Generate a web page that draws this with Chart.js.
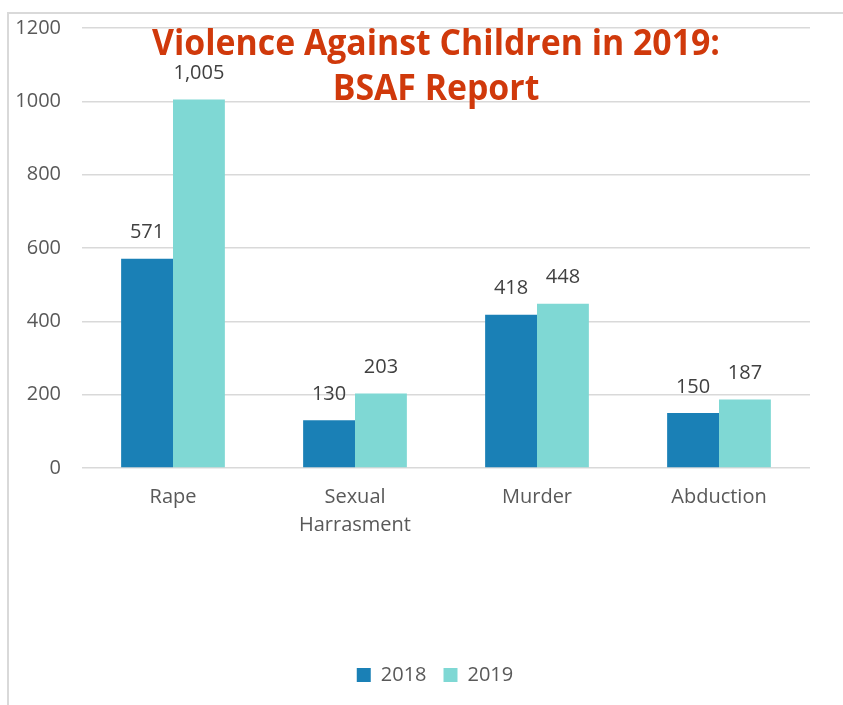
<!DOCTYPE html>
<html>
<head>
<meta charset="utf-8">
<script src="https://cdn.jsdelivr.net/npm/chart.js@4"></script>
<style>
  body { margin: 0; background: #fff; }
  #frame {
    position: absolute; left: 7px; top: 12px; right: 0; bottom: 0;
    border-left: 2px solid #d9d9d9; border-top: 2px solid #d9d9d9;
  }
  #chart { position: absolute; left: 0; top: 0; }
</style>
</head>
<body>
<div id="frame"></div>
<canvas id="chart" width="843" height="705"></canvas>
<script>
// Violence against children, BSAF report
const categories = [['Rape'], ['Sexual', 'Harrasment'], ['Murder'], ['Abduction']];
const seriesNames = ['2018', '2019'];
const values2018 = [571, 130, 418, 150];
const values2019 = [1005, 203, 448, 187];
const yTicks = [0, 200, 400, 600, 800, 1000, 1200];

const titleLines = ['Violence Against Children in 2019:', 'BSAF Report'];

const valueLabels = {
  id: 'valueLabels',
  afterDatasetsDraw(chart) {
    const ctx = chart.ctx;
    ctx.save();
    ctx.font = '20px "Open Sans"';
    ctx.fillStyle = '#404040';
    ctx.textAlign = 'center';
    ctx.textBaseline = 'middle';
    chart.data.datasets.forEach((ds, i) => {
      chart.getDatasetMeta(i).data.forEach((bar, j) => {
        ctx.fillText(ds.data[j].toLocaleString('en-US'), bar.x, bar.y - 26);
      });
    });
    ctx.restore();
  },
};

// title sits on top of the plot, squeezed to look like a condensed face
const overlayTitle = {
  id: 'overlayTitle',
  afterDraw(chart) {
    const ctx = chart.ctx;
    ctx.save();
    ctx.font = 'bold 36px "Open Sans"';
    ctx.fillStyle = '#d0390b';
    ctx.textAlign = 'center';
    ctx.textBaseline = 'alphabetic';
    const sx = 568 / ctx.measureText(titleLines[0]).width;
    ctx.translate(436, 0);
    ctx.scale(sx, 1);
    ctx.fillText(titleLines[0], 0, 55);
    ctx.fillText(titleLines[1], 0, 100);
    ctx.restore();
  },
};

// legend in the original is centred a bit right of the canvas middle
const nudgeLegend = {
  id: 'nudgeLegend',
  afterLayout(chart) {
    chart.legend.left += 30;
    chart.legend.right += 30;
  },
};

new Chart(document.getElementById('chart'), {
  type: 'bar',
  data: {
    labels: categories,
    datasets: [
      { label: seriesNames[0], data: values2018, backgroundColor: '#1a80b6' },
      { label: seriesNames[1], data: values2019, backgroundColor: '#7fd8d4' },
    ],
  },
  options: {
    responsive: false,
    animation: false,
    layout: { padding: { top: 28, right: 33, bottom: 10, left: 0 } },
    datasets: { bar: { barPercentage: 1, categoryPercentage: 0.57 } },
    scales: {
      x: {
        grid: { display: false },
        border: { display: false },
        ticks: { color: '#595959', font: { family: 'Open Sans', size: 20, lineHeight: 1.4 }, padding: 7 },
        afterFit(scale) { scale.height = 180; },
      },
      y: {
        min: 0,
        max: 1200,
        afterBuildTicks(scale) { scale.ticks = yTicks.map(v => ({ value: v })); },
        afterFit(scale) { scale.width = 82; scale.paddingTop = 0; scale.paddingBottom = 0; },
        grid: { color: '#d9d9d9', lineWidth: 1.5, drawTicks: false },
        border: { display: false },
        ticks: {
          color: '#595959',
          font: { family: 'Open Sans', size: 20 },
          padding: 21,
          callback: v => String(v),
        },
      },
    },
    plugins: {
      legend: {
        position: 'bottom',
        labels: {
          color: '#595959',
          font: { family: 'Open Sans', size: 20 },
          boxWidth: 14,
          boxHeight: 14,
          padding: 17,
        },
      },
      tooltip: { enabled: false },
    },
  },
  plugins: [valueLabels, overlayTitle, nudgeLegend],
});
</script>
</body>
</html>
